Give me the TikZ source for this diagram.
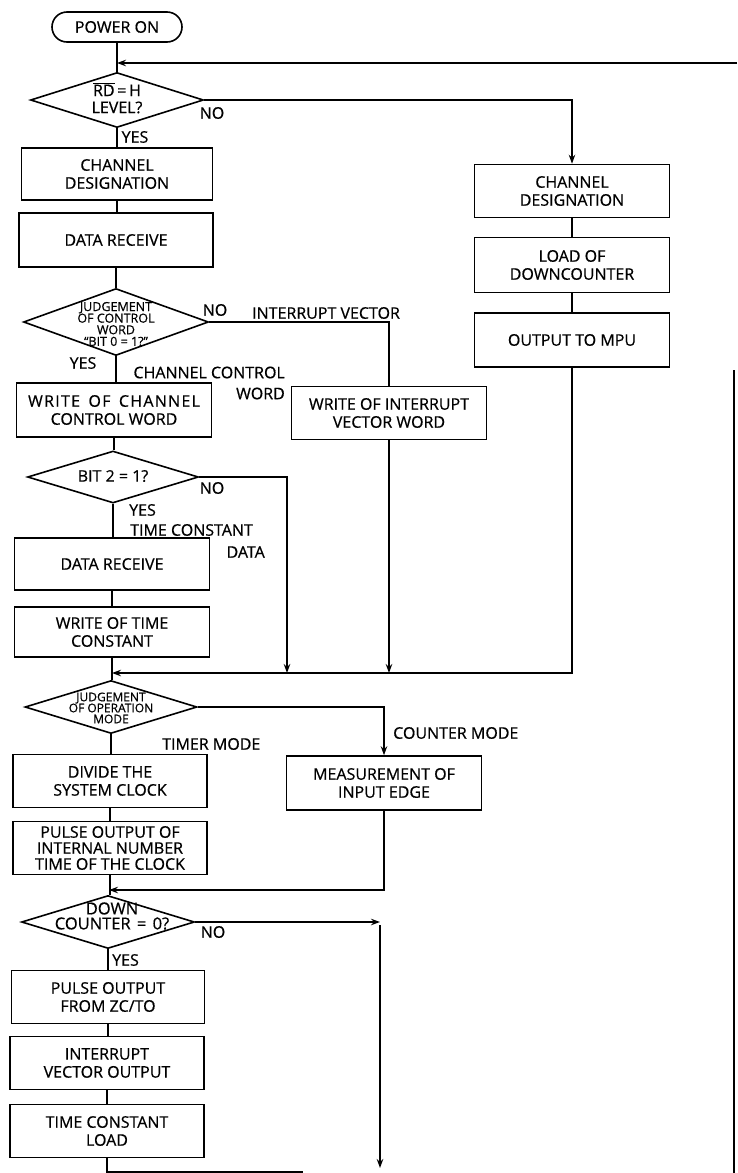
\documentclass[tikz,border=0pt]{standalone}
\usepackage{fontspec}
\setmainfont{Open Sans}[FakeBold=0.6]
\usetikzlibrary{shapes.geometric,arrows.meta}
\begin{document}
\begin{tikzpicture}[x=1pt,y=-1pt,
  box/.style={draw, line width=1.6pt, minimum width=195pt, minimum height=53pt,
    align=center, inner sep=2pt, font=\fontsize{16}{18}\selectfont},
  term/.style={draw, line width=1.6pt, rounded corners=15pt, minimum width=130pt,
    minimum height=30pt, inner sep=2pt, font=\fontsize{16}{18}\selectfont},
  dia/.style={draw, diamond, line width=1.6pt, inner sep=0pt},
  dtext/.style={align=center, inner sep=0pt},
  lbl/.style={font=\fontsize{16}{18}\selectfont, inner sep=0pt},
  conn/.style={line width=1.3pt},
  arr/.style={conn, -{Stealth[length=9pt,width=6.5pt]}},
]
\useasboundingbox (0,0) rectangle (737,1173);

% ---------- main column ----------
\node[term] (on) at (117,27) {POWER ON};

\node[dia, minimum width=173pt, minimum height=55pt] (d1) at (117,100) {};
\node[dtext, font=\fontsize{16}{17}\selectfont] (t1) at (117,98) {$\overline{\hbox{RD}}$\,=\,H\\LEVEL?};

\node[box, minimum width=191pt, minimum height=52pt] (cd1) at (117,174) {CHANNEL\\DESIGNATION};
\node[box, minimum width=194pt, minimum height=54pt] (dr1) at (116,240) {DATA RECEIVE};

\node[dia, minimum width=185pt, minimum height=67pt] (d2) at (116,322) {};
\node[dtext, font=\fontsize{12.5}{11.6}\selectfont] (t2) at (116,324) {JUDGEMENT\\OF CONTROL\\WORD\\“BIT 0 = 1?”};

\node[box, minimum height=54pt] (wccw) at (114,410) {{\addfontfeatures{LetterSpace=8}WRITE\hspace{3pt} OF\hspace{3pt} CHANNEL}\\CONTROL WORD};

\node[dia, minimum width=171pt, minimum height=52pt] (d3) at (113,477) {};
\node[dtext, font=\fontsize{16}{17}\selectfont] (t3) at (113,476) {BIT 2 = 1?};

\node[box, minimum height=52pt] (dr2) at (112,564) {DATA RECEIVE};
\node[box, minimum height=50pt] (wtc) at (112,632) {WRITE OF TIME\\CONSTANT};

\node[dia, minimum width=172pt, minimum height=53pt] (d4) at (111,707) {};
\node[dtext, font=\fontsize{12}{11}\selectfont] (t4) at (111,708) {JUDGEMENT\\OF OPERATION\\MODE};

\node[box, minimum width=194pt] (dsc) at (110,781) {DIVIDE THE\\SYSTEM CLOCK};
\node[box, minimum width=194pt, font=\fontsize{16}{16}\selectfont] (po1) at (110,848) {PULSE OUTPUT OF\\INTERNAL NUMBER\\TIME OF THE CLOCK};

\node[dia, minimum width=173pt, minimum height=53pt] (d5) at (108,922) {};
\node[dtext, font=\fontsize{16.5}{15}\selectfont] (t5) at (112,916) {DOWN\\COUNTER\hspace{2pt} =\hspace{2pt} 0?};

\node[box, minimum width=193pt] (pzc) at (108,997) {PULSE OUTPUT\\FROM ZC/TO};
\node[box, minimum width=194pt] (ivo) at (107,1063) {INTERRUPT\\VECTOR OUTPUT};
\node[box, minimum width=194pt] (tcl) at (107,1131) {TIME CONSTANT\\LOAD};

% ---------- right-hand branches ----------
\node[box] (cd2) at (572,191) {CHANNEL\\DESIGNATION};
\node[box, minimum height=55pt] (lod) at (572,265) {LOAD OF\\DOWNCOUNTER};
\node[box, minimum height=54pt] (mpu) at (572,340) {OUTPUT TO MPU};

\node[box] (wivw) at (389,413) {WRITE OF INTERRUPT\\VECTOR WORD};
\node[box, minimum height=54pt] (mie) at (384,783) {MEASUREMENT OF\\INPUT EDGE};

% ---------- labels ----------
\node[lbl] (no1) at (212,113) {NO};
\node[lbl] (yes1) at (135,137) {YES};
\node[lbl] (no2) at (215,310) {NO};
\node[lbl, anchor=west] (iv) at (252,313) {INTERRUPT VECTOR};
\node[lbl] (yes2) at (83,363) {YES};
\node[lbl, anchor=east, align=right, font=\fontsize{16}{21}\selectfont] (ccw) at (285,383) {CHANNEL CONTROL\\WORD};
\node[lbl] (no3) at (212,488) {NO};
\node[lbl, anchor=west] (yes3) at (129,510) {YES};
\node[lbl, anchor=west] (tcd1) at (130,530) {TIME CONSTANT};
\node[lbl, anchor=east] (tcd2) at (265,552) {DATA};
\node[lbl, anchor=west] (tm) at (162,744) {TIMER MODE};
\node[lbl, anchor=west] (cm) at (393,733) {COUNTER MODE};
\node[lbl] (no5) at (213,932) {NO};
\node[lbl, anchor=west] (yes5) at (112,960) {YES};

% ---------- coordinates ----------
\coordinate (topR) at (737,63);
\coordinate (mrg) at (112,673);
\coordinate (j3) at (287,673);
\coordinate (mrg2) at (109,890);
\coordinate (jn) at (380,925);
\coordinate (jb) at (380,1168);
\coordinate (bl) at (303,1172);
\coordinate (rv1) at (734,370);
\coordinate (rv2) at (734,1173);

% ---------- connectors ----------
\draw[conn] (on.south) -- (d1.north);
\draw[arr] (topR) -- (topR -| on.south);
\draw[conn] (d1.south) -- (d1.south |- cd1.north);
\draw[conn] (cd1.south) -- (cd1.south |- dr1.north);
\draw[conn] (dr1.south) -- (dr1.south |- d2.north);
\draw[conn] (d2.south) -- (d2.south |- wccw.north);
\draw[conn] (wccw.south) -- (wccw.south |- d3.north);
\draw[conn] (d3.south) -- (d3.south |- dr2.north);
\draw[conn] (dr2.south) -- (dr2.south |- wtc.north);
\draw[conn] (wtc.south) -- (wtc.south |- d4.north);
\draw[conn] (d4.south) -- (d4.south |- dsc.north);
\draw[conn] (dsc.south) -- (dsc.south |- po1.north);
\draw[conn] (po1.south) -- (po1.south |- d5.north);
\draw[conn] (d5.south) -- (d5.south |- pzc.north);
\draw[conn] (pzc.south) -- (pzc.south |- ivo.north);
\draw[conn] (ivo.south) -- (ivo.south |- tcl.north);
\draw[conn] (tcl.south) |- (bl);

\draw[arr] (d1.east) -| (cd2.north);
\draw[conn] (cd2.south) -- (lod.north);
\draw[conn] (lod.south) -- (mpu.north);
\draw[arr] (mpu.south) |- (mrg);

\draw[conn] (d2.east) -| (wivw.north);
\draw[arr] (wivw.south) -- (wivw.south |- mrg);
\draw[arr] (d3.east) -| (j3);

\draw[arr] (d4.east) -| (mie.north);
\draw[arr] (mie.south) |- (mrg2);

\draw[arr] (d5.east) -- (d5.east -| jn);
\draw[arr] (jn) -- (jb);

\draw[conn] (rv1) -- (rv2);
\end{tikzpicture}
\end{document}
